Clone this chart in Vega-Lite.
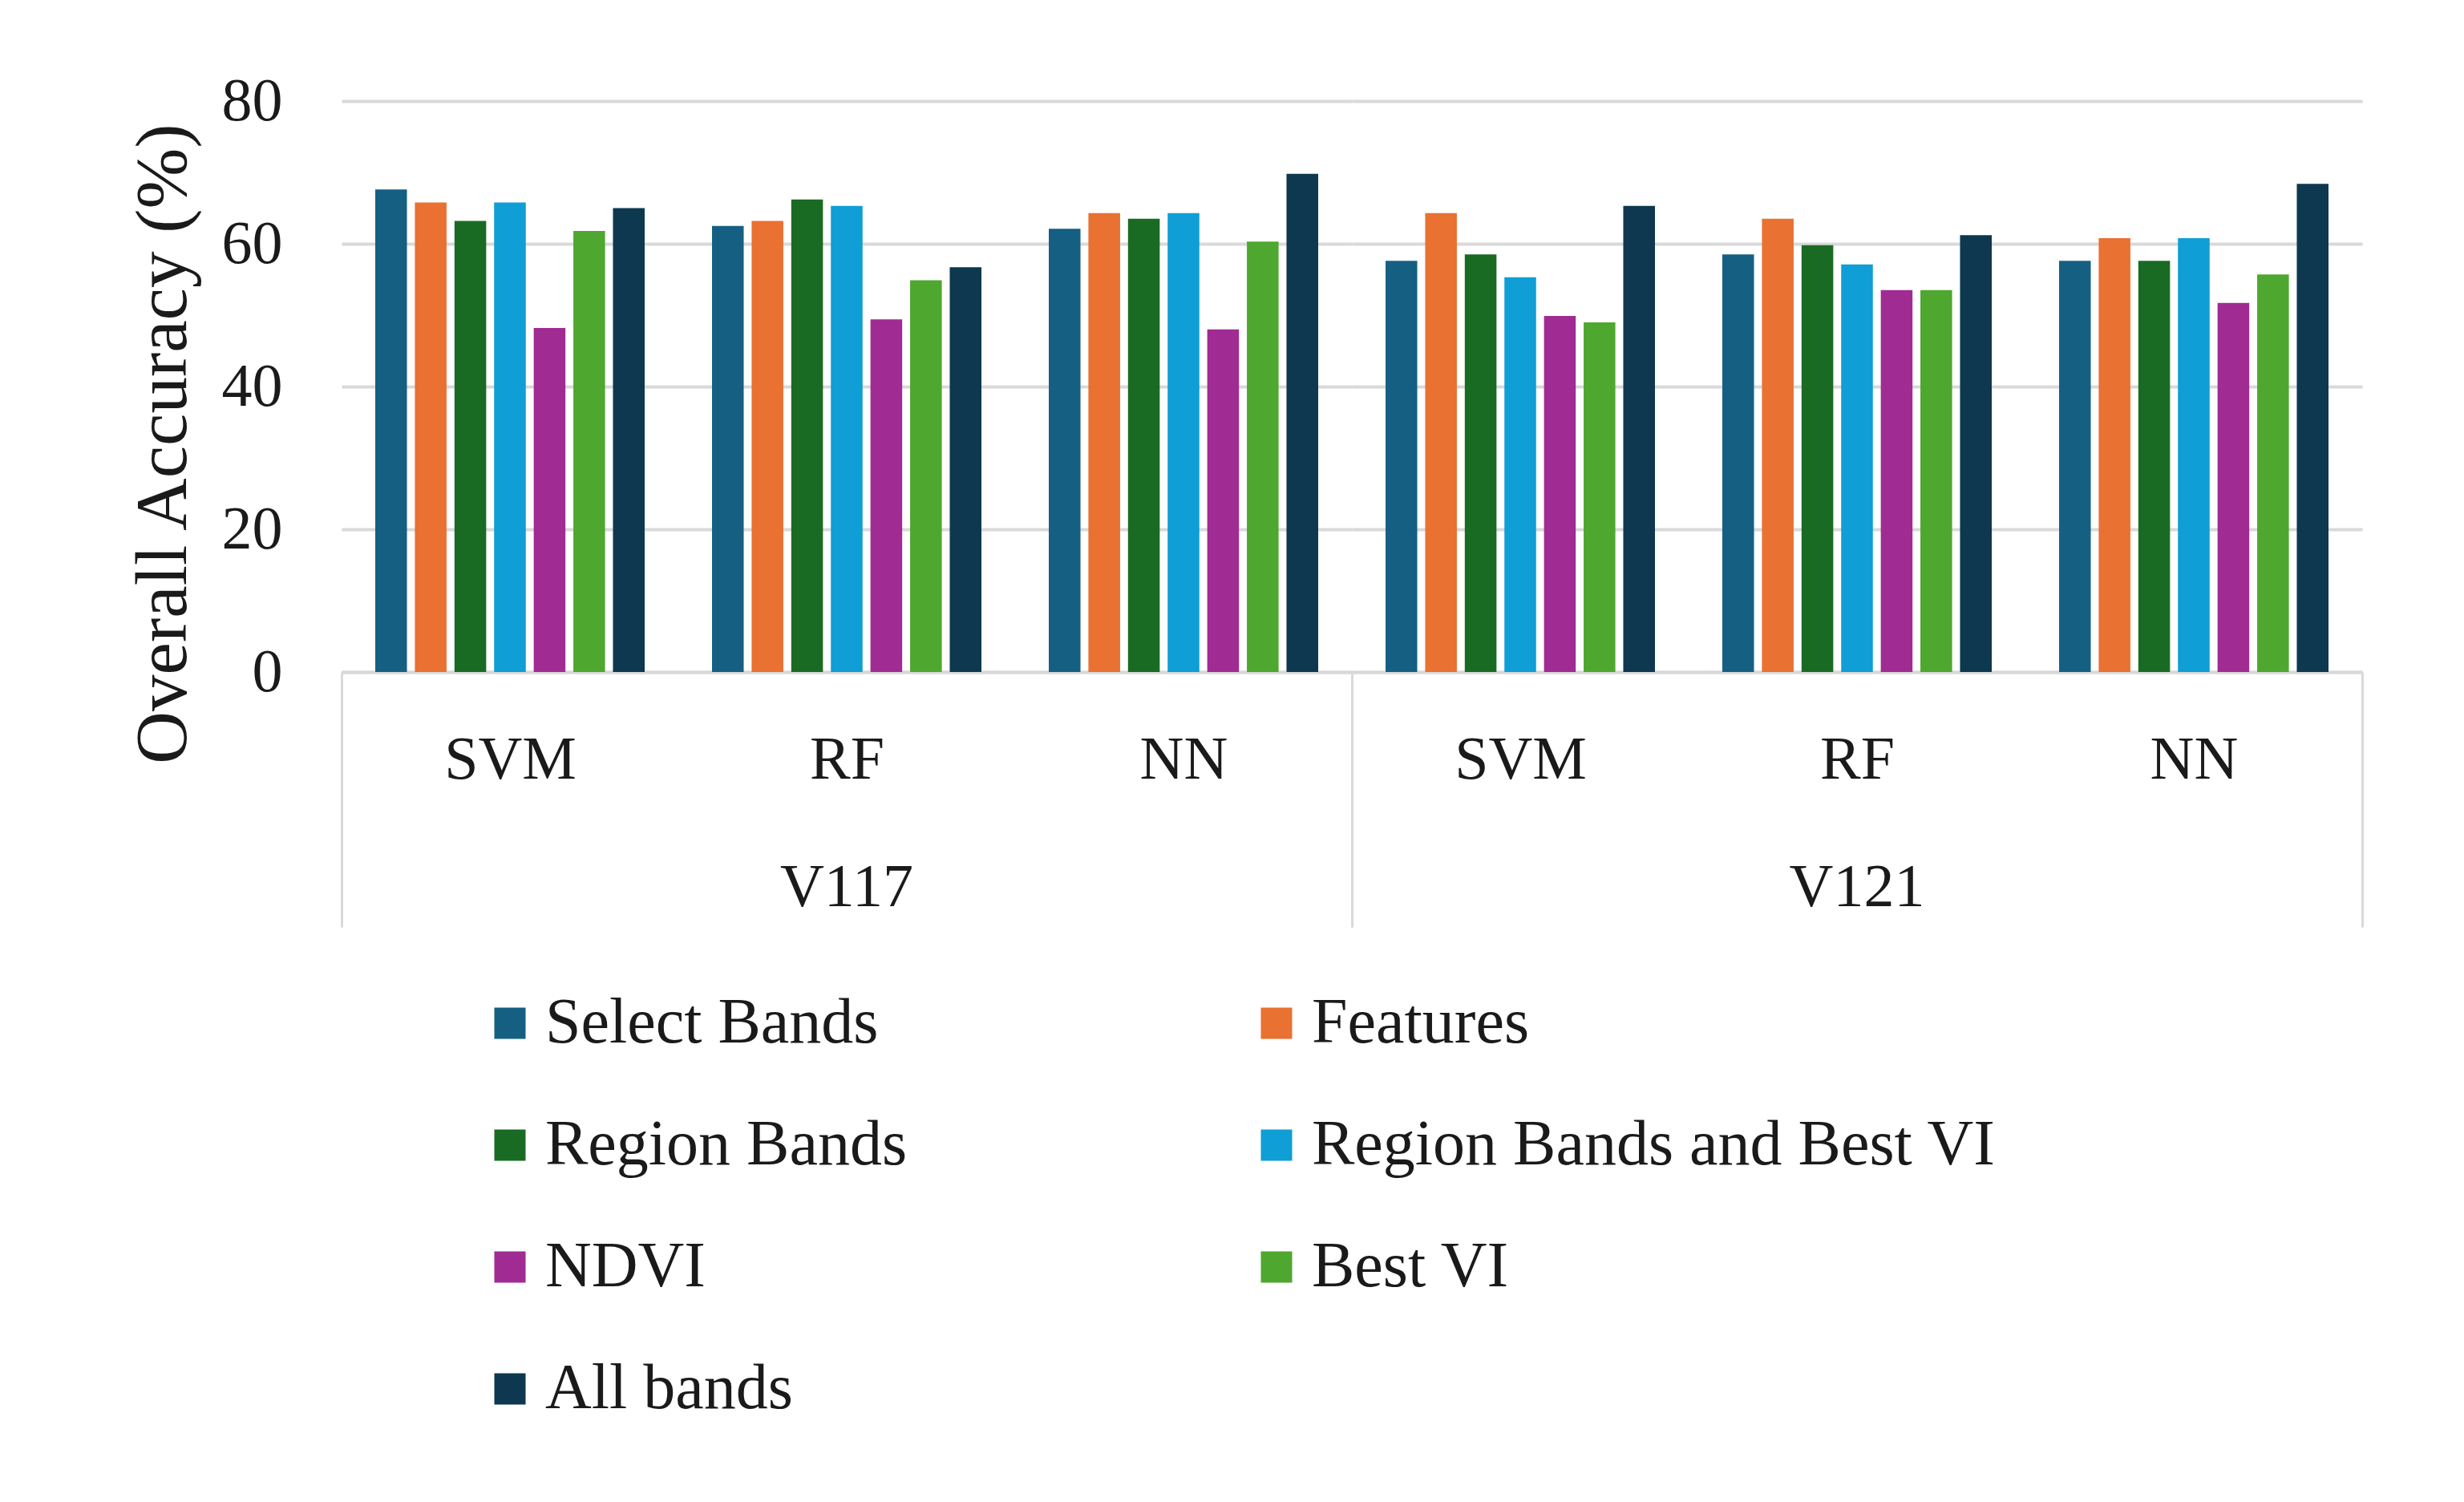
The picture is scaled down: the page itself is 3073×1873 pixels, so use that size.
{
  "$schema": "https://vega.github.io/schema/vega-lite/v6.json",
  "padding": {"left": 158, "top": 88, "right": 100, "bottom": 40},
  "background": "white",
  "data": {"values": [
    {"version": "V117", "classifier": "SVM", "method": "Select Bands", "accuracy": 67.6},
    {"version": "V117", "classifier": "SVM", "method": "Features", "accuracy": 65.8},
    {"version": "V117", "classifier": "SVM", "method": "Region Bands", "accuracy": 63.2},
    {"version": "V117", "classifier": "SVM", "method": "Region Bands and Best VI", "accuracy": 65.8},
    {"version": "V117", "classifier": "SVM", "method": "NDVI", "accuracy": 48.2},
    {"version": "V117", "classifier": "SVM", "method": "Best VI", "accuracy": 61.8},
    {"version": "V117", "classifier": "SVM", "method": "All bands", "accuracy": 65.0},
    {"version": "V117", "classifier": "RF", "method": "Select Bands", "accuracy": 62.5},
    {"version": "V117", "classifier": "RF", "method": "Features", "accuracy": 63.2},
    {"version": "V117", "classifier": "RF", "method": "Region Bands", "accuracy": 66.2},
    {"version": "V117", "classifier": "RF", "method": "Region Bands and Best VI", "accuracy": 65.3},
    {"version": "V117", "classifier": "RF", "method": "NDVI", "accuracy": 49.4},
    {"version": "V117", "classifier": "RF", "method": "Best VI", "accuracy": 54.9},
    {"version": "V117", "classifier": "RF", "method": "All bands", "accuracy": 56.7},
    {"version": "V117", "classifier": "NN", "method": "Select Bands", "accuracy": 62.1},
    {"version": "V117", "classifier": "NN", "method": "Features", "accuracy": 64.3},
    {"version": "V117", "classifier": "NN", "method": "Region Bands", "accuracy": 63.5},
    {"version": "V117", "classifier": "NN", "method": "Region Bands and Best VI", "accuracy": 64.3},
    {"version": "V117", "classifier": "NN", "method": "NDVI", "accuracy": 48.0},
    {"version": "V117", "classifier": "NN", "method": "Best VI", "accuracy": 60.3},
    {"version": "V117", "classifier": "NN", "method": "All bands", "accuracy": 69.8},
    {"version": "V121", "classifier": "SVM", "method": "Select Bands", "accuracy": 57.6},
    {"version": "V121", "classifier": "SVM", "method": "Features", "accuracy": 64.3},
    {"version": "V121", "classifier": "SVM", "method": "Region Bands", "accuracy": 58.5},
    {"version": "V121", "classifier": "SVM", "method": "Region Bands and Best VI", "accuracy": 55.3},
    {"version": "V121", "classifier": "SVM", "method": "NDVI", "accuracy": 49.9},
    {"version": "V121", "classifier": "SVM", "method": "Best VI", "accuracy": 49.0},
    {"version": "V121", "classifier": "SVM", "method": "All bands", "accuracy": 65.3},
    {"version": "V121", "classifier": "RF", "method": "Select Bands", "accuracy": 58.5},
    {"version": "V121", "classifier": "RF", "method": "Features", "accuracy": 63.5},
    {"version": "V121", "classifier": "RF", "method": "Region Bands", "accuracy": 59.8},
    {"version": "V121", "classifier": "RF", "method": "Region Bands and Best VI", "accuracy": 57.1},
    {"version": "V121", "classifier": "RF", "method": "NDVI", "accuracy": 53.5},
    {"version": "V121", "classifier": "RF", "method": "Best VI", "accuracy": 53.5},
    {"version": "V121", "classifier": "RF", "method": "All bands", "accuracy": 61.2},
    {"version": "V121", "classifier": "NN", "method": "Select Bands", "accuracy": 57.6},
    {"version": "V121", "classifier": "NN", "method": "Features", "accuracy": 60.8},
    {"version": "V121", "classifier": "NN", "method": "Region Bands", "accuracy": 57.6},
    {"version": "V121", "classifier": "NN", "method": "Region Bands and Best VI", "accuracy": 60.8},
    {"version": "V121", "classifier": "NN", "method": "NDVI", "accuracy": 51.7},
    {"version": "V121", "classifier": "NN", "method": "Best VI", "accuracy": 55.7},
    {"version": "V121", "classifier": "NN", "method": "All bands", "accuracy": 68.4}
  ]},
  "facet": {
    "column": {
      "field": "version", "type": "nominal", "sort": ["V117", "V121"],
      "header": {"title": null, "labelOrient": "bottom", "labelFontSize": 76, "labelFont": "Liberation Serif", "labelColor": "#1a1a1a", "labelPadding": -88}
    }
  },
  "spacing": 0,
  "spec": {
    "width": 1260,
    "height": 712,
    "mark": {"type": "bar"},
    "encoding": {
      "x": {
        "field": "classifier", "type": "nominal", "sort": ["SVM", "RF", "NN"],
        "scale": {"paddingInner": 0, "paddingOuter": 0},
        "axis": {
          "title": null, "labelAngle": 0, "labelFontSize": 76, "labelFont": "Liberation Serif", "labelColor": "#1a1a1a",
          "labelPadding": -246, "ticks": true, "tickBand": "extent", "tickSize": 318, "tickWidth": 3,
          "tickColor": {"condition": {"test": "datum.value === 'NN' || datum.extra", "value": "#d9d9d9"}, "value": "transparent"},
          "domainColor": "#d9d9d9", "domainWidth": 4, "grid": false
        }
      },
      "xOffset": {
        "field": "method", "type": "nominal",
        "sort": ["Select Bands", "Features", "Region Bands", "Region Bands and Best VI", "NDVI", "Best VI", "All bands"],
        "scale": {"paddingInner": 0.2, "paddingOuter": 0.85}
      },
      "y": {
        "field": "accuracy", "type": "quantitative",
        "scale": {"domain": [0, 80]},
        "axis": {
          "title": "Overall Accuracy (%)", "titleFont": "Liberation Serif", "titleFontSize": 91, "titleFontWeight": "normal",
          "titleColor": "#1a1a1a", "titlePadding": 26, "titleY": 427,
          "values": [0, 20, 40, 60, 80], "labelFontSize": 76, "labelFont": "Liberation Serif", "labelColor": "#1a1a1a",
          "labelPadding": 74, "ticks": false, "domain": false, "gridColor": "#d9d9d9", "gridWidth": 4
        }
      },
      "color": {
        "field": "method", "type": "nominal",
        "sort": ["Select Bands", "Features", "Region Bands", "Region Bands and Best VI", "NDVI", "Best VI", "All bands"],
        "scale": {
          "domain": ["Select Bands", "Features", "Region Bands", "Region Bands and Best VI", "NDVI", "Best VI", "All bands"],
          "range": ["#156082", "#E97132", "#196B24", "#0F9ED5", "#A02B93", "#4EA72E", "#0D384F"]
        },
        "legend": {
          "orient": "none", "legendX": 170, "legendY": 1110, "columns": 2, "direction": "horizontal", "title": null,
          "symbolType": "square", "symbolSize": 1521, "symbolStrokeWidth": 0,
          "labelFontSize": 80, "labelFont": "Liberation Serif", "labelColor": "#1a1a1a",
          "columnPadding": 420, "rowPadding": 72, "labelOffset": 4, "labelLimit": 0
        }
      }
    }
  },
  "config": {"view": {"stroke": null}}
}
